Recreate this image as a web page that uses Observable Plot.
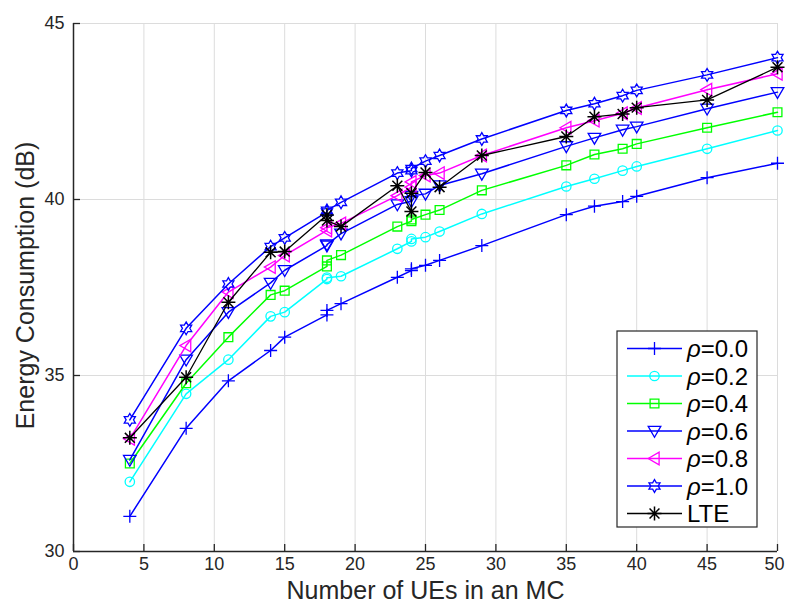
<!DOCTYPE html>
<html><head><meta charset="utf-8">
<script src="https://cdn.jsdelivr.net/npm/d3@7"></script>
<script src="https://cdn.jsdelivr.net/npm/@observablehq/plot@0.6"></script>
<style>body{margin:0;background:#fff;} svg{display:block}</style>
</head><body><div id="chart"></div>
<script>
// ---- data ----
const ues = [4, 8, 11, 14, 15, 18, 18, 19, 23, 24, 24, 25, 26, 29, 35, 37, 39, 40, 45, 50];
const rho00 = [31.0, 33.5, 34.85, 35.71, 36.09, 36.72, 36.85, 37.04, 37.79, 37.98, 38.03, 38.13, 38.27, 38.69, 39.57, 39.81, 39.94, 40.09, 40.62, 41.03];
const rho02 = [31.98, 34.48, 35.45, 36.68, 36.8, 37.74, 37.78, 37.82, 38.6, 38.81, 38.88, 38.93, 39.09, 39.59, 40.37, 40.59, 40.82, 40.94, 41.44, 41.96];
const rho04 = [32.5, 34.78, 36.09, 37.29, 37.41, 38.1, 38.27, 38.42, 39.23, 39.38, 39.43, 39.57, 39.7, 40.26, 40.97, 41.28, 41.44, 41.58, 42.04, 42.48];
const rho06 = [32.6, 35.45, 36.8, 37.63, 37.99, 38.69, 38.72, 39.03, 39.86, 39.95, 40.1, 40.16, 40.4, 40.73, 41.51, 41.75, 41.98, 42.07, 42.58, 43.05];
const rho08 = [33.2, 35.85, 37.37, 38.08, 38.41, 39.12, 39.2, 39.32, 40.11, 40.35, 40.5, 40.68, 40.75, 41.25, 42.04, 42.24, 42.45, 42.6, 43.12, 43.57];
const rho10 = [33.74, 36.34, 37.6, 38.66, 38.91, 39.64, 39.69, 39.92, 40.75, 40.82, 40.88, 41.09, 41.25, 41.72, 42.53, 42.72, 42.95, 43.1, 43.54, 44.03];
const lte   = [33.23, 34.95, 37.08, 38.5, 38.52, 39.56, 39.4, 39.23, 40.39, 39.66, 40.18, 40.77, 40.35, 41.25, 41.79, 42.35, 42.43, 42.61, 42.83, 43.76];
const seriesNames = ["ρ=0.0", "ρ=0.2", "ρ=0.4", "ρ=0.6", "ρ=0.8", "ρ=1.0", "LTE"];
const seriesValues = [rho00, rho02, rho04, rho06, rho08, rho10, lte];
const seriesColors = ["#0000ff", "#00ffff", "#00ff00", "#0000ff", "#ff00ff", "#0000ff", "#000000"];
const xTicks = [0, 5, 10, 15, 20, 25, 30, 35, 40, 45, 50];
const yTicks = [30, 35, 40, 45];
const xDomain = [0, 50];
const yDomain = [30, 45];
const xTitle = ["Number of UEs in an MC"];
const yTitle = ["Energy Consumption (dB)"];

// ---- marker shapes (MATLAB style) ----
function poly(pts) {
  return {draw(c) { c.moveTo(pts[0][0], pts[0][1]); for (let i = 1; i < pts.length; i++) c.lineTo(pts[i][0], pts[i][1]); c.closePath(); }};
}
const symPlus = {draw(c) { c.moveTo(-6.5, 0); c.lineTo(6.5, 0); c.moveTo(0, -6.5); c.lineTo(0, 6.5); }};
const symCircle = {draw(c) { c.moveTo(4.7, 0); c.arc(0, 0, 4.7, 0, 2 * Math.PI); }};
const symSquare = poly([[-4.4, -4.4], [4.4, -4.4], [4.4, 4.4], [-4.4, 4.4]]);
const symDown = poly([[-6.3, -4.6], [6.3, -4.6], [0, 6.3]]);
const symLeft = poly([[-6.3, 0], [4.6, -6.3], [4.6, 6.3]]);
const symHex = (() => {
  const pts = [];
  for (let i = 0; i < 12; i++) {
    const a = -Math.PI / 2 + i * Math.PI / 6;
    const r = i % 2 === 0 ? 6.4 : 6.4 / Math.sqrt(3);
    pts.push([r * Math.cos(a), r * Math.sin(a)]);
  }
  return poly(pts);
})();
const symAst = {draw(c) {
  const L = 7, d = 7 * Math.SQRT1_2;
  c.moveTo(-L, 0); c.lineTo(L, 0); c.moveTo(0, -L); c.lineTo(0, L);
  c.moveTo(-d, -d); c.lineTo(d, d); c.moveTo(-d, d); c.lineTo(d, -d);
}};
const symbols = [symPlus, symCircle, symSquare, symDown, symLeft, symHex, symAst];

const rows = seriesNames.flatMap((name, s) => ues.map((u, i) => ({series: name, s, x: u, y: seriesValues[s][i]})));

const font = "'Liberation Sans', Arial, Helvetica, sans-serif";
const ink = "#262626";

const marks = [
  Plot.gridX(xTicks, {stroke: "#dcdcdc", strokeOpacity: 1, strokeWidth: 1}),
  Plot.gridY(yTicks, {stroke: "#dcdcdc", strokeOpacity: 1, strokeWidth: 1}),
];
seriesNames.forEach((name, s) => {
  const d = rows.filter(r => r.s === s);
  marks.push(Plot.line(d, {x: "x", y: "y", stroke: seriesColors[s], strokeWidth: s === 6 ? 1.3 : 1.5}));
  marks.push(Plot.dot(d, {x: "x", y: "y", symbol: symbols[s], r: 4.5, fill: "none", stroke: seriesColors[s], strokeWidth: s === 6 ? 1.5 : 1.3}));
});
marks.push(
  Plot.ruleY([yDomain[0]], {stroke: ink, strokeWidth: 1.5}),
  Plot.ruleX([xDomain[0]], {stroke: ink, strokeWidth: 1.5}),
  Plot.axisX(xTicks, {tickSize: -7, text: null, stroke: ink, strokeWidth: 1.3, label: null}),
  Plot.axisY(yTicks, {tickSize: -7, text: null, stroke: ink, strokeWidth: 1.3, label: null}),
  Plot.axisX(xTicks.slice(0, -1), {tickSize: 0, tickPadding: 6, fontSize: 18, fill: ink, label: null}),
  Plot.axisX(xTicks.slice(-1), {tickSize: 0, tickPadding: 6, fontSize: 18, fill: ink, label: null, dx: -3}),
  Plot.axisY(yTicks, {tickSize: 0, tickPadding: 9, fontSize: 18, fill: ink, label: null}),
  Plot.text(xTitle, {text: d => d, frameAnchor: "bottom", textAnchor: "middle", dy: 39, fontSize: 25, fill: ink, lineAnchor: "middle"}),
  Plot.text(yTitle, {text: d => d, frameAnchor: "left", textAnchor: "middle", dx: -48, dy: -2, rotate: -90, fontSize: 25, fill: ink, lineAnchor: "middle"})
);

const chart = Plot.plot({
  width: 785, height: 604,
  marginLeft: 73, marginRight: 8, marginTop: 23, marginBottom: 53,
  x: {domain: xDomain},
  y: {domain: yDomain},
  style: {fontFamily: font, fontSize: "16px", color: ink, background: "white", overflow: "visible"},
  marks
});
document.getElementById("chart").appendChild(chart);

// ---- legend ----
const svg = d3.select(chart);
const lg = svg.append("g").attr("font-family", font).attr("text-anchor", "start");
lg.append("rect").attr("x", 617).attr("y", 331).attr("width", 140).attr("height", 196)
  .attr("fill", "white").attr("stroke", ink).attr("stroke-width", 1.2);
seriesNames.forEach((name, s) => {
  const y = 348.5 + s * 27.5;
  lg.append("line").attr("x1", 627).attr("x2", 682).attr("y1", y).attr("y2", y)
    .attr("stroke", seriesColors[s]).attr("stroke-width", s === 6 ? 1.3 : 1.5);
  const p = d3.path(); symbols[s].draw(p, 0);
  lg.append("path").attr("d", p.toString()).attr("transform", `translate(654.5,${y})`)
    .attr("fill", "none").attr("stroke", seriesColors[s]).attr("stroke-width", s === 6 ? 1.5 : 1.3);
  const t = lg.append("text").attr("x", 687).attr("y", y).attr("dy", "0.36em")
    .attr("font-size", 24).attr("fill", "#000");
  if (name.startsWith("ρ")) {
    t.append("tspan").attr("font-style", "italic").text("ρ");
    t.append("tspan").text(name.slice(1));
  } else t.text(name);
});
</script>
</body></html>
